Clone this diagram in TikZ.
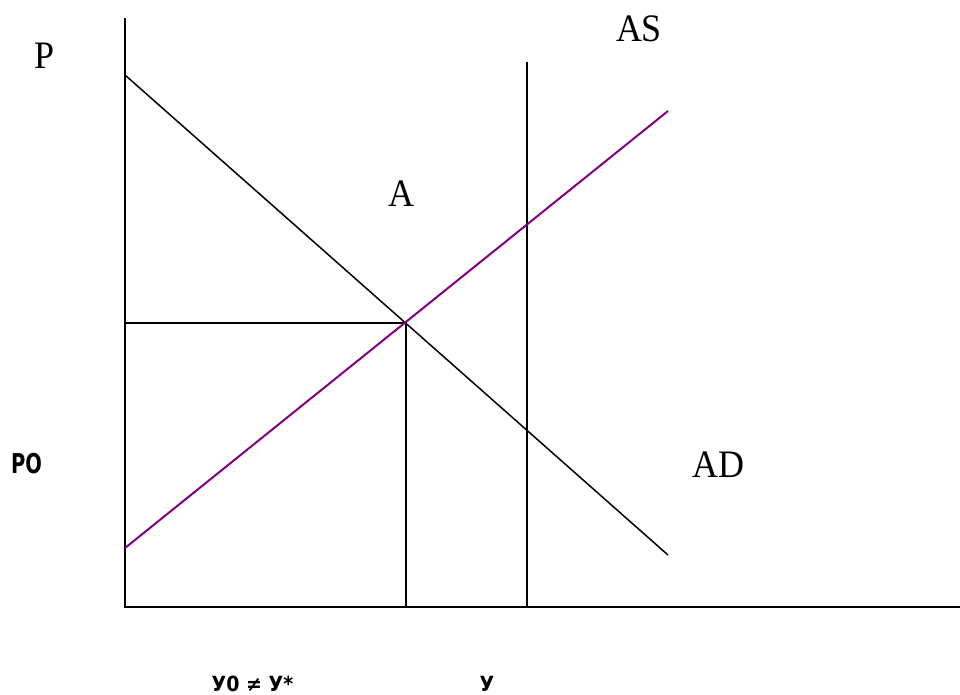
\documentclass[tikz,border=0pt]{standalone}
\usepackage{graphicx}
\usepackage{fontspec}
\setmainfont{Liberation Serif}
\newfontfamily\lblfont{DejaVu Sans}
\newcommand{\tallbig}[1]{\scalebox{1}[1.08]{#1}}
\begin{document}
\begin{tikzpicture}[x=1pt,y=-1pt,
  axis/.style={black,line width=1.6pt},
  curve/.style={black,line width=1.5pt},
  purp/.style={color={rgb,255:red,128;green,0;blue,128},line width=2pt},
  big/.style={font=\fontsize{36}{40}\selectfont,inner sep=0pt},
  small/.style={font=\lblfont\bfseries\fontsize{19}{21}\selectfont,inner sep=0pt}]
\useasboundingbox (0,0) rectangle (960,695);
\coordinate (O) at (125,607);
\coordinate (ytop) at (125,18);
\coordinate (xend) at (960,607);
\coordinate (ad1) at (125,75);
\coordinate (ad2) at (668,555);
\coordinate (as1) at (527,62);
\coordinate (as2) at (527,607);
\coordinate (pu1) at (125,548);
\coordinate (pu2) at (668,111);
\coordinate (E) at (406,323);
\coordinate (Ey) at (125,323);
\coordinate (Ex) at (406,607);
\draw[axis] (ytop) -- (O) -- (xend);
\draw[curve] (ad1) -- (ad2);
\draw[curve] (as1) -- (as2);
\draw[curve] (Ey) -- (E) -- (Ex);
\draw[purp] (pu1) -- (pu2);
\node[big] (P) at (45,56) {\tallbig{P}};
\node[big] (AS) at (639,29) {\tallbig{AS}};
\node[big] (A) at (401,194) {\tallbig{A}};
\node[big] (AD) at (718,465) {\tallbig{AD}};
\node[small] (PO) at (26.5,464) {\scalebox{0.75}[1.05]{\fontsize{26}{28}\selectfont PO}};
\node[small,anchor=base] (Y0) at (252.5,691) {\scalebox{1}[1.1]{У0 ≠ У*}};
\node[small,anchor=base] (Y) at (487,691) {\scalebox{1}[1.1]{У}};
\end{tikzpicture}
\end{document}
